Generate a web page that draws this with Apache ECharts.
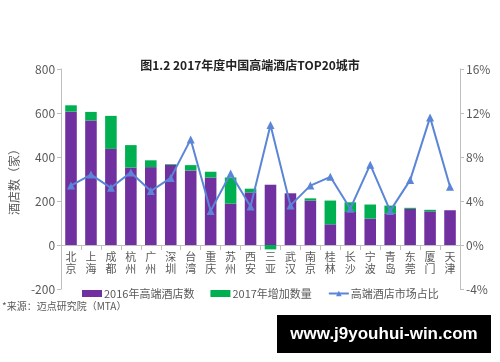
<!DOCTYPE html>
<html><head><meta charset="utf-8">
<script src="https://cdn.jsdelivr.net/npm/echarts@6/dist/echarts.min.js"></script>
<style>html,body{margin:0;padding:0;background:#fff}#c{width:500px;height:362px}</style>
</head><body><div id="c"></div>
<script>
const cities = ['北京','上海','成都','杭州','广州','深圳','台湾','重庆','苏州','西安','三亚','武汉','南京','桂林','长沙','宁波','青岛','东莞','厦门','天津'];
const hotels2016 = [606,566,437,352,354,365,339,307,188,239,274,235,202,94,150,120,144,164,153,158];
const added2017 = [29,39,150,102,31,3,24,26,119,17,-20,0,10,108,44,64,35,5,7,0];
const shareRatio = [5.4,6.4,5.2,6.6,4.9,6.1,9.6,3.1,6.5,3.5,10.9,3.6,5.4,6.2,3.3,7.3,3.1,5.9,11.6,5.3];
const leftTicks = [-200,800,200];
const rightTicks = [-4,16,4];

const font = '"Noto Sans CJK SC", "Microsoft YaHei", sans-serif';
const grey = '#595959';
const chart = echarts.init(document.getElementById('c'));
chart.setOption({
  animation:false,
  textStyle:{fontFamily:font},
  title:{text:'图1.2 2017年度中国高端酒店TOP20城市',left:'center',top:54,
    textStyle:{fontSize:12,fontWeight:'bold',color:'#222',fontFamily:font}},
  grid:{left:52,right:40,top:69,bottom:73},
  legend:{left:77,top:283,itemWidth:20,itemHeight:7,itemGap:16,
    textStyle:{fontSize:11,color:grey,fontFamily:font,padding:[0,0,0,-3]},
    data:[{name:'2016年高端酒店数',icon:'rect'},{name:'2017年增加数量',icon:'rect'},{name:'高端酒店市场占比'}]},
  xAxis:{type:'category',data:cities,position:'bottom',offset:-44,
    axisLine:{onZero:false,lineStyle:{color:'#bfbfbf'}},
    axisTick:{show:true,length:5,lineStyle:{color:'#bfbfbf'}},
    axisLabel:{interval:0,color:grey,fontSize:11,lineHeight:12,margin:6,
      formatter:v=>v.split('').join('\n')}},
  yAxis:[
    {type:'value',min:leftTicks[0],max:leftTicks[1],interval:leftTicks[2],
      name:'酒店数（家）',nameLocation:'middle',nameGap:34,nameRotate:90,
      nameTextStyle:{color:grey,fontSize:12},
      axisLine:{show:true,lineStyle:{color:'#bfbfbf'}},
      axisTick:{show:true,length:4,lineStyle:{color:'#bfbfbf'}},
      splitLine:{show:false},
      axisLabel:{color:grey,fontSize:12,margin:6}},
    {type:'value',min:rightTicks[0],max:rightTicks[1],interval:rightTicks[2],
      axisLine:{show:true,lineStyle:{color:'#bfbfbf'}},
      axisTick:{show:true,length:4,lineStyle:{color:'#bfbfbf'}},
      splitLine:{show:false},
      axisLabel:{color:grey,fontSize:12,margin:6,formatter:'{value}%'}}
  ],
  series:[
    {name:'2016年高端酒店数',type:'bar',stack:'t',data:hotels2016,barWidth:'58%',
      itemStyle:{color:'#7030A0'}},
    {name:'2017年增加数量',type:'bar',stack:'t',data:added2017,barWidth:'58%',
      itemStyle:{color:'#00B050'}},
    {name:'高端酒店市场占比',type:'line',yAxisIndex:1,data:shareRatio,
      symbol:'triangle',symbolSize:8,
      lineStyle:{color:'#5B85D6',width:2},itemStyle:{color:'#5B85D6'}}
  ],
  graphic:[
    {type:'text',left:2,top:301,style:{text:'*来源：迈点研究院（MTA）',fill:grey,fontSize:10,fontFamily:font}},
    {type:'rect',shape:{x:277,y:315,width:214,height:38},style:{fill:'#000'}},
    {type:'text',x:384,y:334,style:{text:'www.j9youhui-win.com',fill:'#fff',fontSize:17,fontWeight:'bold',
      fontFamily:'"Liberation Sans", Arial, sans-serif',align:'center',verticalAlign:'middle'}}
  ]
});
</script></body></html>
